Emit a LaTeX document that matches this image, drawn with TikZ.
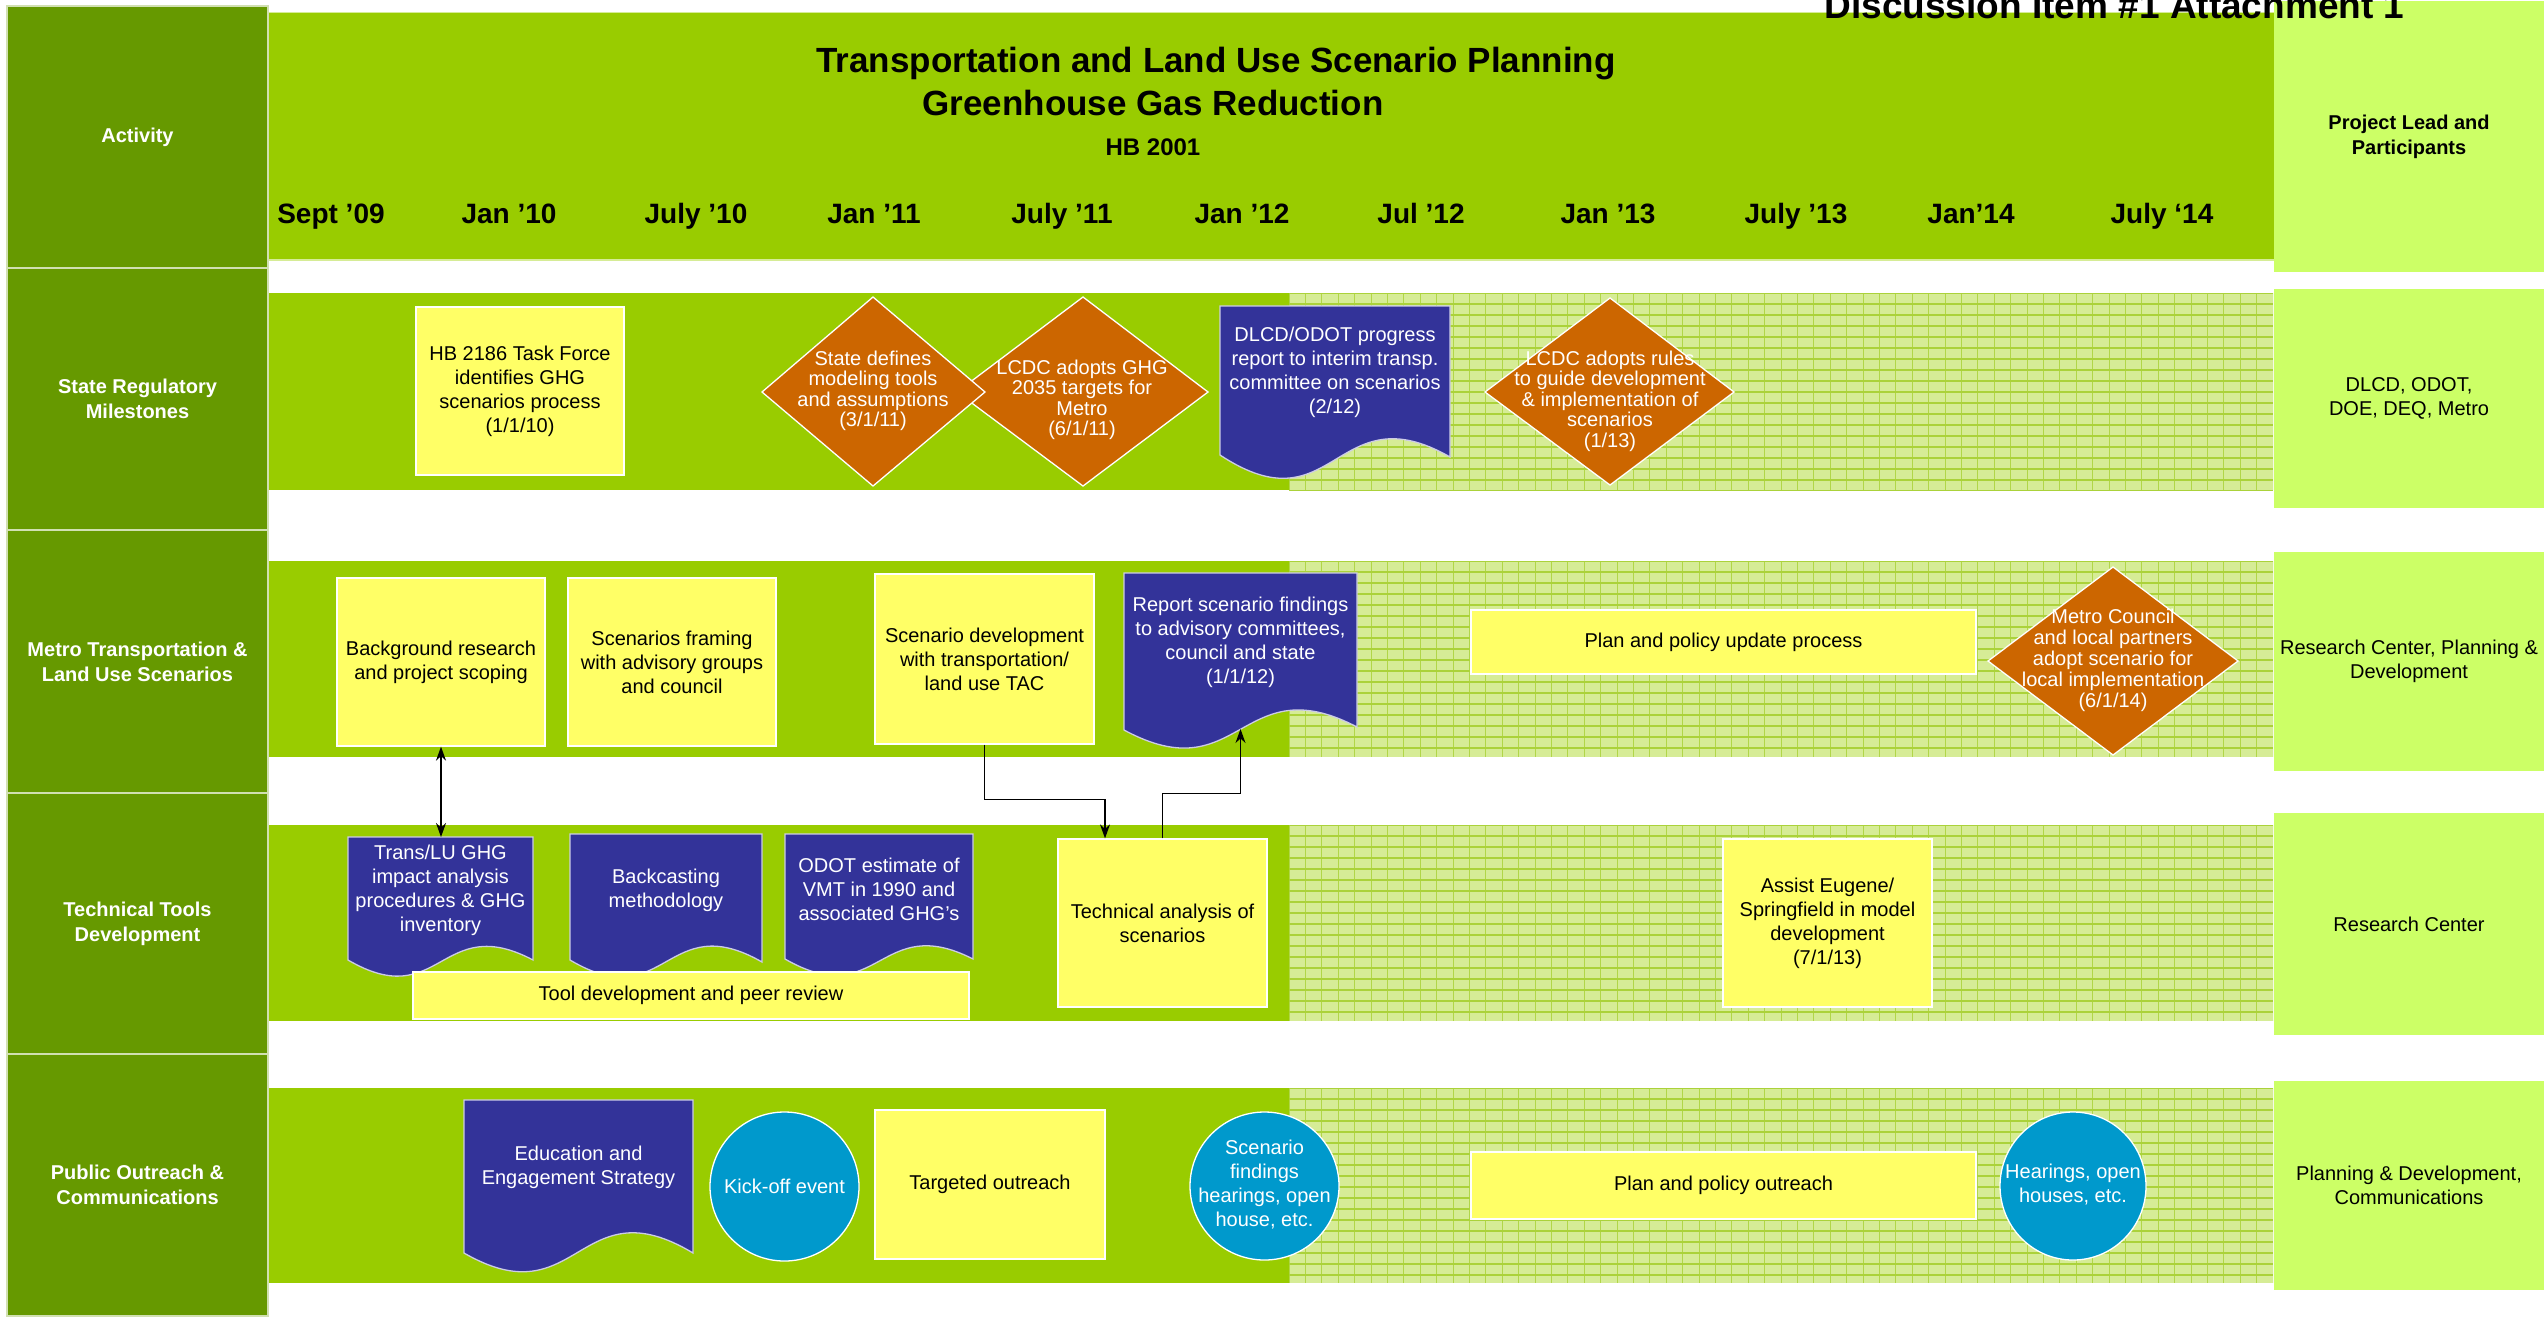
\documentclass[tikz,border=0pt]{standalone}
\usepackage{fontspec}
\setmainfont{Liberation Sans}
\usetikzlibrary{arrows.meta,shapes.geometric}
\definecolor{dkgreen}{HTML}{669900}
\definecolor{bandc}{HTML}{99CC00}
\definecolor{limec}{HTML}{CCFF66}
\definecolor{yelc}{HTML}{FFFF66}
\definecolor{orngc}{HTML}{CC6600}
\definecolor{navyc}{HTML}{333399}
\definecolor{cyanc}{HTML}{0099CC}
\definecolor{gridbg}{HTML}{D6EC96}
\definecolor{gridln}{HTML}{ABD23A}
\newcommand\fs[2]{\fontsize{#1}{#2}\selectfont}
\newcommand\gridzone[2]{%
  \fill[gridbg] (1289,#1) rectangle (2273,#2);
  \begin{scope}
    \clip (1289,#1) rectangle (2273,#2);
    \foreach \xx in {1289,1305.4,...,2280} \draw[gridvl] (\xx,#1) -- (\xx,#2);
    \foreach \yy in {0,11,...,210} \draw[gridhl] (1289,#1+\yy) -- (2273,#1+\yy);
  \end{scope}}
\begin{document}
\begin{tikzpicture}[x=1pt,y=-1pt,
  gridvl/.style={draw=gridln!85!gridbg, line width=1pt},
  gridhl/.style={draw=gridln, line width=1.2pt},
  cellL/.style={draw=white!70!dkgreen, line width=1.5pt, fill=dkgreen, text=white, font=\bfseries\fs{20}{25}, align=center, minimum width=261, minimum height=#1, inner sep=2pt},
  cellR/.style={fill=limec, text=black, font=\fs{20}{24}, align=center, minimum width=270, minimum height=#1, inner sep=2pt},
  ybox/.style={draw=white, line width=1.3pt, fill=yelc, text=black, align=center, inner sep=0pt, font=\fs{20}{24}},
  wtxt/.style={text=white, align=center, inner sep=0pt, font=\fs{20}{24}},
  diatxt/.style={text=white, align=center, inner sep=0pt, font=\fs{20}{20.5}},
  dia/.style={draw=white, line width=1.3pt, fill=orngc},
  docshape/.style={draw=white!75!navyc, line width=1.3pt, fill=navyc},
  circshape/.style={draw=white, line width=1.3pt, fill=cyanc},
  datel/.style={anchor=base, font=\bfseries\fs{28}{32}, inner sep=0pt},
  conn/.style={draw=black, line width=1.3pt},
  tip/.style={-{Stealth[length=14pt,width=10pt]}},
  dtip/.style={{Stealth[length=14pt,width=10pt]}-{Stealth[length=14pt,width=10pt]}}
]
\useasboundingbox (0,0) rectangle (2547,1318);
\fill[white] (0,0) rectangle (2547,1318);

% header band
\fill[bandc] (268,12) rectangle (2275,260);
\draw[gridbg, line width=1.5pt] (268,260) -- (2275,260);
\draw[gridbg, line width=1pt] (268,12) -- (2275,12);

% row bands
\fill[bandc] (269,293) rectangle (1289,490);
\fill[bandc] (269,561) rectangle (1289,757);
\fill[bandc] (269,825) rectangle (1289,1021);
\fill[bandc] (269,1088) rectangle (1289,1283);
\gridzone{293}{490}
\gridzone{561}{757}
\gridzone{825}{1021}
\gridzone{1088}{1283}

% left column cells
\node[cellL=262] (actc) at (137.5,137) {Activity};
\node[cellL=262] (r1c) at (137.5,399) {State Regulatory\\Milestones};
\node[cellL=263] (r2c) at (137.5,661.5) {Metro Transportation \&\\Land Use Scenarios};
\node[cellL=261] (r3c) at (137.5,923.5) {Technical Tools\\Development};
\node[cellL=262] (r4c) at (137.5,1185) {Public Outreach \&\\Communications};

% right column cells
\node[cellR=271, font=\bfseries\fs{20}{25}] (plc) at (2409,136.5) {Project Lead and\\Participants};
\node[cellR=219] (p1c) at (2409,398.5) {DLCD, ODOT,\\DOE, DEQ, Metro};
\node[cellR=219] (p2c) at (2409,661.5) {Research Center, Planning \&\\Development};
\node[cellR=222] (p3c) at (2409,924) {Research Center};
\node[cellR=209] (p4c) at (2409,1185.5) {Planning \& Development,\\Communications};

% titles
\node[anchor=base, font=\bfseries\fs{35}{40}, inner sep=0pt] (t1) at (1216,72) {Transportation and Land Use Scenario Planning};
\node[anchor=base, font=\bfseries\fs{35}{40}, inner sep=0pt] (t2) at (1153,115) {Greenhouse Gas Reduction};
\node[anchor=base, font=\bfseries\fs{24}{28}, inner sep=0pt] (t3) at (1153,155) {HB 2001};

% dates
\node[datel] (dA) at (331,223) {Sept ’09};
\node[datel] (dB) at (509,223) {Jan ’10};
\node[datel] (dC) at (696,223) {July ’10};
\node[datel] (dD) at (874,223) {Jan ’11};
\node[datel] (dE) at (1062,223) {July ’11};
\node[datel] (dF) at (1242,223) {Jan ’12};
\node[datel] (dG) at (1421,223) {Jul ’12};
\node[datel] (dH) at (1608,223) {Jan ’13};
\node[datel] (dI) at (1796,223) {July ’13};
\node[datel] (dJ) at (1971,223) {Jan’14};
\node[datel] (dK) at (2162,223) {July ‘14};

% ---------- Row 1: State Regulatory Milestones
\node[ybox, minimum width=208, minimum height=168] (hb) at (520,391) {HB 2186 Task Force\\identifies GHG\\scenarios process\\(1/1/10)};
\draw[dia] (957,392) -- (1083,297) -- (1208,392) -- (1083,486) -- cycle;
\draw[dia] (762,392) -- (873,297) -- (985,392) -- (873,486) -- cycle;
\node[diatxt] (sdt) at (873,391) {State defines\\modeling tools\\and assumptions\\(3/1/11)};
\node[diatxt] (lct) at (1082,400) {LCDC adopts GHG\\2035 targets for\\Metro\\(6/1/11)};
\draw[docshape] (1220,306) -- (1450,306) -- (1450,457) .. controls (1335,391) and (1335,531) .. (1220,455) -- cycle;
\node[wtxt] (dlcd) at (1335,372) {DLCD/ODOT progress\\report to interim transp.\\committee on scenarios\\(2/12)};
\draw[dia] (1485,392) -- (1610,298) -- (1734,392) -- (1610,485) -- cycle;
\node[diatxt] (lcr) at (1610,401) {LCDC adopts rules\\to guide development\\\& implementation of\\scenarios\\(1/13)};

% ---------- Row 2: Metro Transportation & Land Use Scenarios
\node[ybox, minimum width=208, minimum height=168] (bg) at (441,662) {Background research\\and project scoping};
\node[ybox, minimum width=208, minimum height=168] (sf) at (672,662) {Scenarios framing\\with advisory groups\\and council};
\node[ybox, minimum width=219, minimum height=170] (sd) at (984.5,659) {Scenario development\\with transportation/\\land use TAC};
\draw[docshape] (1124,573) -- (1357,573) -- (1357,727) .. controls (1240.5,666) and (1240.5,793) .. (1124,730) -- cycle;
\node[wtxt] (rep) at (1240.5,642) {Report scenario findings\\to advisory committees,\\council and state\\(1/1/12)};
\coordinate (repW) at (1240.5,729);
\node[ybox, minimum width=505, minimum height=64] (pp) at (1723.5,642) {Plan and policy update process};
\draw[dia] (1988,661) -- (2113,567) -- (2238,661) -- (2113,755) -- cycle;
\node[wtxt, font=\fs{20}{21}] (mc) at (2113,660) {Metro Council\\and local partners\\adopt scenario for\\local implementation\\(6/1/14)};

% ---------- Row 3: Technical Tools Development
\draw[docshape] (348,837) -- (533,837) -- (533,960) .. controls (440.5,911) and (440.5,1014) .. (348,960) -- cycle;
\node[wtxt] (tlu) at (440.5,890) {Trans/LU GHG\\impact analysis\\procedures \& GHG\\inventory};
\coordinate (tluT) at (440.5,837);
\draw[docshape] (570,834) -- (762,834) -- (762,962) .. controls (666,907) and (666,1017) .. (570,960) -- cycle;
\node[wtxt] (bc) at (666,890) {Backcasting\\methodology};
\draw[docshape] (785,834) -- (973,834) -- (973,959) .. controls (879,911) and (879,1013) .. (785,959) -- cycle;
\node[wtxt] (odot) at (879,889) {ODOT estimate of\\VMT in 1990 and\\associated GHG’s};
\node[ybox, minimum width=556, minimum height=47] (tool) at (691,995.5) {Tool development and peer review};
\node[ybox, minimum width=209, minimum height=168] (ta) at (1162.5,923) {Technical analysis of\\scenarios};
\node[ybox, minimum width=209, minimum height=168] (ae) at (1827.5,923) {Assist Eugene/\\Springfield in model\\development\\(7/1/13)};

% ---------- Row 4: Public Outreach & Communications
\draw[docshape] (464,1100) -- (693,1100) -- (693,1253) .. controls (578.5,1184) and (578.5,1319) .. (464,1253) -- cycle;
\node[wtxt] (ee) at (578.5,1167) {Education and\\Engagement Strategy};
\draw[circshape] (784.5,1186.5) ellipse [x radius=74.5, y radius=74.5];
\node[wtxt] (ko) at (784.5,1186) {Kick-off event};
\node[ybox, minimum width=230, minimum height=149] (to) at (990,1184.5) {Targeted outreach};
\draw[circshape] (1264.5,1186) ellipse [x radius=74.5, y radius=74];
\node[wtxt] (sfh) at (1264.5,1185) {Scenario\\findings\\hearings, open\\house, etc.};
\node[ybox, minimum width=505, minimum height=67] (ppo) at (1723.5,1185.5) {Plan and policy outreach};
\draw[circshape] (2073,1186) ellipse [x radius=73, y radius=74];
\node[wtxt] (hoh) at (2073,1185) {Hearings, open\\houses, etc.};

% ---------- connectors
\draw[conn, dtip] (bg.south) -- (bg.south |- tluT);
\draw[conn, tip] (sd.south) -- ++(0,55) -| ([xshift=-57.5pt]ta.north);
\draw[conn, tip] (ta.north) -- ++(0,-45) -| (repW);

% top-right caption (cut at the top edge, as in the original)
\node[anchor=base, font=\bfseries\fs{37}{40}, inner sep=0pt] (disc) at (2114.5,18) {Discussion Item \#1 Attachment 1};
\end{tikzpicture}
\end{document}
